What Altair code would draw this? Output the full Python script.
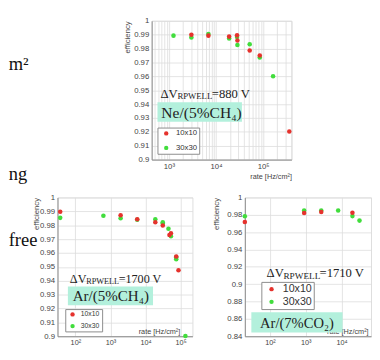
import altair as alt
import pandas as pd

# ---------------- data ----------------
SERIES = ["10x10", "30x30"]
RED = "#e5322d"
GREEN = "#41dd3c"

# Ne/(5%CH4), dV = 880 V
ne_rate_10 = [3000, 6900, 19000, 28000, 28500, 52000, 85000, 360000]
ne_eff_10 = [0.9900, 0.9893, 0.9886, 0.9895, 0.9858, 0.9786, 0.9750, 0.9203]
ne_rate_30 = [1250, 3000, 6900, 19000, 28000, 28500, 52000, 85000, 163000]
ne_eff_30 = [0.9893, 0.9879, 0.9904, 0.9872, 0.9883, 0.9825, 0.9831, 0.9736, 0.9600]

# Ar/(5%CH4), dV = 1700 V
ar_rate_10 = [37, 1950, 5800, 19000, 31000, 48000, 53000, 75000, 87000]
ar_eff_10 = [0.9897, 0.9872, 0.9843, 0.9822, 0.9798, 0.9730, 0.9742, 0.9575, 0.9475]
ar_rate_30 = [37, 630, 1950, 5800, 19000, 31000, 31000, 45000, 53000, 75000, 75000, 137000]
ar_eff_30 = [0.9853, 0.9868, 0.9850, 0.9839, 0.9843, 0.9821, 0.9812, 0.9774, 0.9720, 0.9570, 0.9555, 0.9002]

# Ar/(7%CO2), dV = 1710 V
co_rate_10 = [20, 900, 2700, 20000]
co_eff_10 = [0.9718, 0.9820, 0.9832, 0.9823]
co_rate_30 = [20, 900, 2700, 8000, 20000, 31500]
co_eff_30 = [0.9783, 0.9850, 0.9850, 0.9850, 0.9785, 0.9733]

# axis tick values
top_x_vals = [500, 600, 700, 800, 900,
              1000, 2000, 3000, 4000, 5000, 6000, 7000, 8000, 9000,
              10000, 20000, 30000, 40000, 50000, 60000, 70000, 80000, 90000,
              100000, 200000, 300000, 400000]
decade_x_vals = [100, 1000, 10000, 100000]
y_vals_01 = [0.9, 0.91, 0.92, 0.93, 0.94, 0.95, 0.96, 0.97, 0.98, 0.99, 1.0]
y_vals_02 = [0.84, 0.86, 0.88, 0.9, 0.92, 0.94, 0.96, 0.98, 1.0]

LOG_LABEL = ("datum.value == 100 ? '10²' : datum.value == 1000 ? '10³' : "
             "datum.value == 10000 ? '10⁴' : datum.value == 100000 ? '10⁵' : ''")

SANS = "Liberation Sans"
SERIF = "Liberation Serif"
TEAL = "#b3f0dc"
ONE = pd.DataFrame({"k": [0]})


def frame(r10, e10, r30, e30):
    rows = [{"rate": r, "eff": e, "size": "30x30"} for r, e in zip(r30, e30)]
    rows += [{"rate": r, "eff": e, "size": "10x10"} for r, e in zip(r10, e10)]
    return pd.DataFrame(rows)


def text(t, x, y, size, font=SERIF, color="#222"):
    return alt.Chart(ONE).mark_text(
        text=t, font=font, fontSize=size, align="left", baseline="alphabetic", color=color
    ).encode(x=alt.value(x), y=alt.value(y))


def box(x1, x2, y1, y2):
    return alt.Chart(ONE).mark_rect(color=TEAL).encode(
        x=alt.value(x1), x2=alt.value(x2), y=alt.value(y1), y2=alt.value(y2))


def anchor(x, y):
    # invisible 1px layout anchor (white on white)
    return alt.Chart(ONE).mark_rect(color="white").encode(
        x=alt.value(x), x2=alt.value(x + 1), y=alt.value(y), y2=alt.value(y + 1))


def panel(df, w, h, xdom, ydom, xvals, yvals, leg, xt, yt, xlab, annots):
    nb = "\u00a0" * leg["pad"]
    color = alt.Color(
        "size:N",
        scale=alt.Scale(domain=SERIES, range=[RED, GREEN]),
        legend=alt.Legend(
            orient="none", legendX=leg["x"], legendY=leg["y"], title=None,
            direction="vertical", strokeColor="#8a8a8a", fillColor="white",
            padding=leg["padding"], rowPadding=leg["row"], symbolType="circle",
            symbolSize=20, symbolStrokeWidth=0, symbolOffset=leg["so"],
            labelOffset=leg["lo"], labelFontSize=leg["fs"], labelFont=SANS,
            labelColor="#333", labelExpr="datum.label + '" + nb + "'",
        ),
    )
    pts = alt.Chart(df).mark_circle(size=22, opacity=1).encode(
        x=alt.X("rate:Q",
                scale=alt.Scale(type="log", domain=xdom, nice=False),
                axis=alt.Axis(values=xvals, labelExpr=LOG_LABEL, grid=True, ticks=False,
                              labelOverlap=False, labelFlush=False, labelFontSize=xlab[0],
                              labelFont=SANS, labelColor="#444", labelPadding=xlab[1],
                              domainColor="#8a8a8a", gridColor="#dcdcdc", gridWidth=0.8,
                              title="rate [Hz/cm²]", titleFont=SANS, titleFontSize=7.5,
                              titleFontWeight="normal", titleColor="#444",
                              titleX=xt[0], titleY=xt[1], titleAlign="right",
                              titleBaseline="middle")),
        y=alt.Y("eff:Q",
                scale=alt.Scale(domain=ydom, nice=False, zero=False),
                axis=alt.Axis(values=yvals, format="~g", grid=True, ticks=False,
                              labelOverlap=False, labelFlush=False, labelFontSize=8,
                              labelFont=SANS, labelColor="#444", labelPadding=3,
                              domainColor="#8a8a8a", gridColor="#dcdcdc", gridWidth=0.8,
                              title="efficiency", titleFont=SANS, titleFontSize=8,
                              titleFontWeight="normal", titleColor="#444",
                              titleAngle=270, titleX=yt, titleY=0, titleAlign="right",
                              titleBaseline="middle")),
        color=color,
    )
    return alt.layer(*annots, pts).properties(width=w, height=h)


top = panel(
    frame(ne_rate_10, ne_eff_10, ne_rate_30, ne_eff_30), 144, 143,
    [430, 400000], [0.9, 1.0], top_x_vals, y_vals_01,
    dict(x=6, y=110, padding=2, row=7, so=3, lo=6, fs=8, pad=10),
    (144, 17), -25, (8, 3),
    [anchor(-40, -7), box(6, 93, 84, 104),
     text("ΔV", 9, 79.5, 13), text("RPWELL", 26.5, 81, 9), text("=880 V", 62, 79.5, 13),
     text("Ne/(5%CH₄)", 10, 100.5, 16)],
)

left = panel(
    frame(ar_rate_10, ar_eff_10, ar_rate_30, ar_eff_30), 139, 143,
    [31, 217000], [0.9, 1.0], decade_x_vals, y_vals_01,
    dict(x=8, y=115, padding=2, row=4, so=2, lo=5, fs=7, pad=8),
    (126, -5), -22, (7.5, 2),
    [anchor(-50.3, -6), anchor(145, -6), box(10.7, 98.4, 91.7, 111),
     text("ΔV", 12.7, 88, 12.5), text("RPWELL", 29.5, 89.5, 8.5), text("=1700 V", 63, 88, 12.5),
     text("Ar/(5%CH₄)", 15.7, 106.7, 15.5),
     text("free", -50.3, 50, 19, color="#111")],
)

right = panel(
    frame(co_rate_10, co_eff_10, co_rate_30, co_eff_30), 130, 143,
    [20, 66000], [0.84, 1.0], decade_x_vals, y_vals_02,
    dict(x=17, y=87, padding=2, row=1, so=3, lo=6, fs=11, pad=2),
    (127, -5), -29, (7.5, 2),
    [anchor(-40, -6), box(6.7, 100.7, 118.3, 139),
     text("ΔV", 22.4, 82, 13), text("RPWELL", 39.8, 83.5, 9.5), text("=1710 V", 77, 82, 13),
     text("Ar/(7%CO₂)", 15.7, 135, 15)],
)

# left strip of the slide (cut-off words) + invisible layout anchors
spacer = alt.layer(
    anchor(-50.3, -7), anchor(44, 0), anchor(0, 170),
    text("m²", -50.3, 51, 19, color="#111"),
    text("ng", -50.3, 164, 19, color="#111"),
).properties(width=45, height=143, view=alt.ViewBackground(stroke="transparent"))

row1 = alt.hconcat(spacer, top, spacing=10).resolve_scale(
    color="independent").resolve_legend(color="independent")
row2 = alt.hconcat(left, right, spacing=5).resolve_scale(
    color="independent").resolve_legend(color="independent")

chart = alt.vconcat(row1, row2, spacing=3, padding=0).resolve_scale(
    color="independent").resolve_legend(color="independent").configure_view(
    stroke="#c4c4c4").configure(background="white")

chart.save("out.html", embed_options={"renderer": "svg", "actions": False})
